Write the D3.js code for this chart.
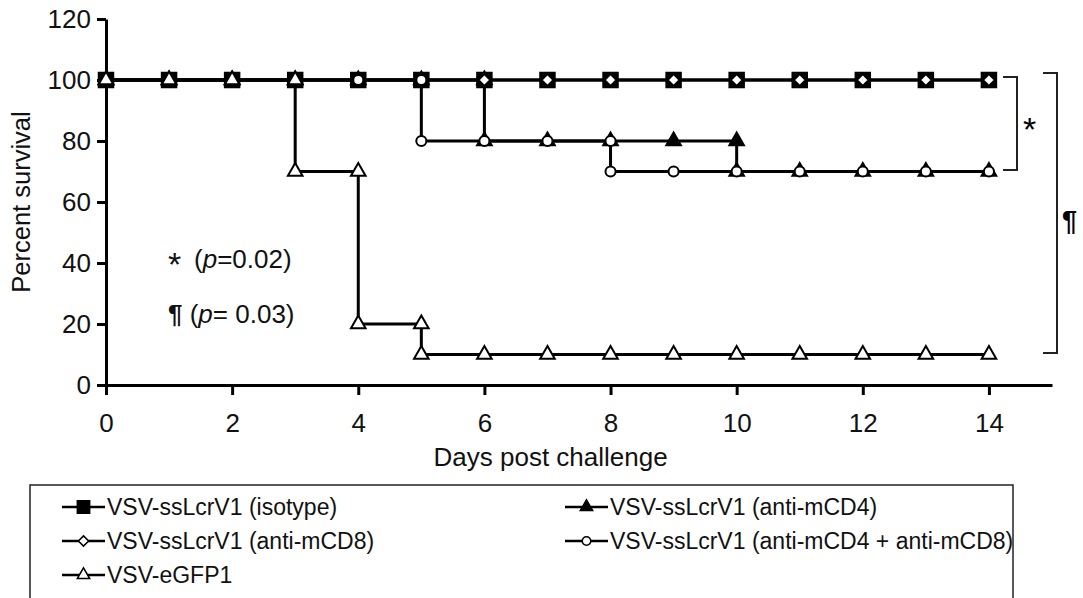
<!DOCTYPE html>
<html>
<head>
<meta charset="utf-8">
<script src="https://cdn.jsdelivr.net/npm/d3@7"></script>
<style>
  body { margin: 0; background: #fff; }
  svg { display: block; font-family: "Liberation Sans", Arial, sans-serif; }
</style>
</head>
<body>
<div id="chart"></div>
<script>
var w = 1083;
var h = 598;

// tick labels
var xTicks = [0, 2, 4, 6, 8, 10, 12, 14];
var yTicks = [0, 20, 40, 60, 80, 100, 120];

// survival data, [day, percent] (both points kept on days with a drop)
var isotype = [[0,100],[1,100],[2,100],[3,100],[4,100],[5,100],[6,100],[7,100],[8,100],[9,100],[10,100],[11,100],[12,100],[13,100],[14,100]];
var antiCD4 = [[0,100],[1,100],[2,100],[3,100],[4,100],[5,100],[6,100],[6,80],[7,80],[8,80],[9,80],[10,80],[10,70],[11,70],[12,70],[13,70],[14,70]];
var antiCD8 = [[0,100],[1,100],[2,100],[3,100],[4,100],[5,100],[6,100],[7,100],[8,100],[9,100],[10,100],[11,100],[12,100],[13,100],[14,100]];
var antiCD4CD8 = [[0,100],[1,100],[2,100],[3,100],[4,100],[5,100],[5,80],[6,80],[7,80],[8,80],[8,70],[9,70],[10,70],[11,70],[12,70],[13,70],[14,70]];
var eGFP = [[0,100],[1,100],[2,100],[3,100],[3,70],[4,70],[4,20],[5,20],[5,10],[6,10],[7,10],[8,10],[9,10],[10,10],[11,10],[12,10],[13,10],[14,10]];

var seriesNames = ["VSV-ssLcrV1 (isotype)", "VSV-ssLcrV1 (anti-mCD4)", "VSV-ssLcrV1 (anti-mCD8)",
                   "VSV-ssLcrV1 (anti-mCD4 + anti-mCD8)", "VSV-eGFP1"];

// drawing order = stacking order of the markers
var series = [
  { name: seriesNames[0], data: isotype,    shape: "square",   fill: "#000", leg: [0, 0] },
  { name: seriesNames[1], data: antiCD4,    shape: "triangle", fill: "#000", leg: [1, 0] },
  { name: seriesNames[2], data: antiCD8,    shape: "diamond",  fill: "#fff", leg: [0, 1] },
  { name: seriesNames[3], data: antiCD4CD8, shape: "circle",   fill: "#fff", leg: [1, 1] },
  { name: seriesNames[4], data: eGFP,       shape: "triangle", fill: "#fff", leg: [0, 2] }
];

var svg = d3.select("#chart")
            .append("svg")
            .attr("width", w)
            .attr("height", h);

var xScale = d3.scaleLinear().domain([0, 15]).range([106, 1052]);
var yScale = d3.scaleLinear().domain([0, 120]).range([385, 19]);

// marker path generator
function markerPath(shape, k) {
    if (shape == "square") return d3.symbol(d3.symbolSquare, 210 * k * k)();
    if (shape == "triangle") return d3.symbol(d3.symbolTriangle, 92 * k * k)();
    if (shape == "circle") return d3.symbol(d3.symbolCircle, 80 * k * k)();
    // diamond = square turned 45deg
    var r = 6 * k;
    return "M0," + (-r) + "L" + r + ",0L0," + r + "L" + (-r) + ",0Z";
}

// AXES
var xAxis = d3.axisBottom(xScale)
              .tickValues(xTicks)
              .tickSizeInner(10)
              .tickSizeOuter(0)
              .tickPadding(19);
var yAxis = d3.axisLeft(yScale)
              .tickValues(yTicks)
              .tickSizeInner(9)
              .tickSizeOuter(0)
              .tickPadding(6);

var gx = svg.append("g")
    .attr("transform", "translate(0," + yScale(0) + ")")
    .call(xAxis);
var gy = svg.append("g")
    .attr("transform", "translate(" + xScale(0) + ",0)")
    .call(yAxis);

[gx, gy].forEach(function(g) {
    g.select(".domain").attr("stroke", "#000").attr("stroke-width", 3);
    g.selectAll(".tick line").attr("stroke", "#000").attr("stroke-width", 3);
    g.selectAll(".tick text")
     .attr("fill", "#111")
     .style("font-size", "26px")
     .style("font-family", '"Liberation Sans", Arial, sans-serif');
});

// axis titles
svg.append("text")
   .attr("x", xScale(7.05))
   .attr("y", 466)
   .attr("text-anchor", "middle")
   .attr("fill", "#111")
   .style("font-size", "26px")
   .text("Days post challenge");
svg.append("text")
   .attr("transform", "translate(30," + yScale(60) + ") rotate(-90)")
   .attr("text-anchor", "middle")
   .attr("fill", "#111")
   .style("font-size", "25.5px")
   .text("Percent survival");

// LINES
var line = d3.line()
             .x(function(d) { return xScale(d[0]); })
             .y(function(d) { return yScale(d[1]); });

svg.selectAll(".km")
   .data(series)
   .enter()
   .append("path")
   .attr("class", "km")
   .attr("d", function(d) { return line(d.data); })
   .attr("fill", "none")
   .attr("stroke", "#000")
   .attr("stroke-width", 3);

// MARKERS
series.forEach(function(s) {
    svg.append("g")
       .selectAll("path")
       .data(s.data)
       .enter()
       .append("path")
       .attr("transform", function(d) {
           return "translate(" + xScale(d[0]) + "," + yScale(d[1]) + ")";
       })
       .attr("d", markerPath(s.shape, 1))
       .attr("fill", s.fill)
       .attr("stroke", "#000")
       .attr("stroke-width", 2);
});

// significance brackets
function bracket(x0, x1, yTop, yBot) {
    svg.append("path")
       .attr("d", "M" + x0 + "," + yTop + "H" + x1 + "V" + yBot + "H" + x0)
       .attr("fill", "none")
       .attr("stroke", "#222")
       .attr("stroke-width", 2);
}
bracket(1003, 1017, yScale(101), yScale(70.5));
bracket(1043, 1057, yScale(102.3), yScale(10.5));

svg.append("text")
   .attr("x", 1023).attr("y", 141)
   .style("font-size", "34px")
   .text("*");
svg.append("text")
   .attr("x", 1062).attr("y", 230)
   .style("font-size", "27px")
   .style("font-weight", "bold")
   .text("\u00b6");

// p-value notes
var notes = [["*", "=0.02)"], ["\u00b6", "= 0.03)"]];
var noteY = [268, 323];
notes.forEach(function(n, i) {
    var t = svg.append("text")
               .attr("x", 168)
               .attr("y", noteY[i])
               .attr("fill", "#111")
               .style("font-size", "26px");
    if (i == 0) {
        t.append("tspan").style("font-size", "34px").attr("dy", 8).text(n[0]);
        t.append("tspan").attr("x", 194).attr("dy", -8).text("(");
    } else {
        t.append("tspan").style("font-weight", "bold").text(n[0]);
        t.append("tspan").text(" (");
    }
    t.append("tspan").style("font-style", "italic").text("p");
    t.append("tspan").text(n[1]);
});

// LEGEND
svg.append("rect")
   .attr("x", 30).attr("y", 485)
   .attr("width", 983).attr("height", 140)
   .attr("fill", "none")
   .attr("stroke", "#222")
   .attr("stroke-width", 1.5);

var legCols = [62, 565];
var legRows = [507, 541, 575];

var leg = svg.selectAll(".leg")
    .data(series)
    .enter()
    .append("g")
    .attr("class", "leg")
    .attr("transform", function(d) {
        return "translate(" + legCols[d.leg[0]] + "," + legRows[d.leg[1]] + ")";
    });
leg.append("line")
   .attr("x1", 0).attr("x2", 43)
   .attr("stroke", "#000").attr("stroke-width", 2.5);
leg.append("path")
   .attr("transform", "translate(21.5,0)")
   .attr("d", function(d) { return markerPath(d.shape, 0.85); })
   .attr("fill", function(d) { return d.fill; })
   .attr("stroke", "#000")
   .attr("stroke-width", 1.5);
leg.append("text")
   .attr("x", 45)
   .attr("dy", "0.36em")
   .attr("fill", "#111")
   .style("font-size", "23px")
   .text(function(d) { return d.name; });
</script>
</body>
</html>
